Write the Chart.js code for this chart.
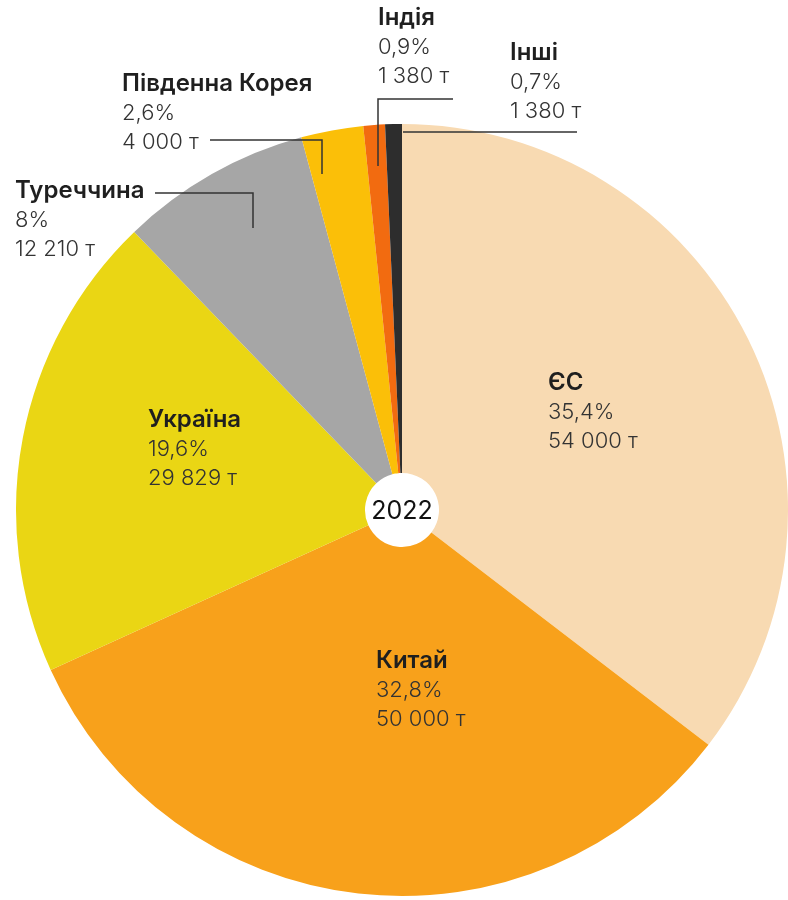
<!DOCTYPE html>
<html>
<head>
<meta charset="utf-8">
<script src="https://cdn.jsdelivr.net/npm/chart.js@4.4.1/dist/chart.umd.min.js"></script>
<style>
  html, body { margin: 0; padding: 0; background: #ffffff; }
  #wrap { position: relative; width: 788px; height: 900px; }
</style>
</head>
<body>
<div id="wrap"><canvas id="c" width="788" height="900"></canvas></div>
<script>
// ---- data ----
const categories = ['ЄС', 'Китай', 'Україна', 'Туреччина', 'Південна Корея', 'Індія', 'Інші'];
const shares = [35.4, 32.8, 19.6, 8, 2.6, 0.9, 0.7];
const shareLabels = ['35,4%', '32,8%', '19,6%', '8%', '2,6%', '0,9%', '0,7%'];
const tonnesLabels = ['54 000 т', '50 000 т', '29 829 т', '12 210 т', '4 000 т', '1 380 т', '1 380 т'];
const yearLabel = '2022';

// ---- styles ----
const colors = ['#F8DAB2', '#F8A11B', '#EAD614', '#A6A6A6', '#FBBF08', '#F26B10', '#2D2D2D'];
// label anchor (left x, first line center y) and optional leader polyline
const labelLayout = [
  { x: 548, y: 383 },
  { x: 376, y: 661 },
  { x: 148, y: 420 },
  { x: 15,  y: 191, line: [[155,193],[253,193],[253,228]] },
  { x: 122, y: 84,  line: [[210,140],[322,140],[322,174]] },
  { x: 378, y: 18,  line: [[453,99],[378,99],[378,166]] },
  { x: 510, y: 53,  line: [[577,132],[403,132]] }
];
const lineH = 29;
const FONT = 'Inter, "Noto Sans", sans-serif';

const labelPlugin = {
  id: 'labels',
  afterDraw(chart) {
    const ctx = chart.ctx;
    ctx.save();
    // leader lines
    ctx.strokeStyle = '#333333';
    ctx.lineWidth = 1.5;
    labelLayout.forEach(l => {
      if (!l.line) return;
      ctx.beginPath();
      l.line.forEach((p, i) => i ? ctx.lineTo(p[0], p[1]) : ctx.moveTo(p[0], p[1]));
      ctx.stroke();
    });
    ctx.textBaseline = 'middle';
    ctx.textAlign = 'left';
    categories.forEach((name, i) => {
      const l = labelLayout[i];
      ctx.fillStyle = '#1f1f1f';
      ctx.font = '600 24px ' + FONT;
      ctx.fillText(name, l.x, l.y);
      ctx.fillStyle = '#333333';
      ctx.font = '300 22px ' + FONT;
      ctx.fillText(shareLabels[i], l.x, l.y + lineH);
      ctx.fillText(tonnesLabels[i], l.x, l.y + 2 * lineH);
    });
    // center year
    const arc = chart.getDatasetMeta(0).data[0];
    ctx.fillStyle = '#111111';
    ctx.font = '400 25px ' + FONT;
    ctx.textAlign = 'center';
    ctx.fillText(yearLabel, arc.x, arc.y + 1);
    ctx.restore();
  }
};

new Chart(document.getElementById('c'), {
  type: 'doughnut',
  data: {
    labels: categories,
    datasets: [{
      data: shares,
      backgroundColor: colors,
      borderWidth: 0,
      hoverOffset: 0,
      offset: 0
    }]
  },
  options: {
    responsive: false,
    animation: false,
    cutout: 37,
    layout: { padding: { left: 16, right: 0, top: 124, bottom: 4 } },
    plugins: { legend: { display: false }, tooltip: { enabled: false } },
    events: []
  },
  plugins: [labelPlugin]
});
</script>
</body>
</html>
